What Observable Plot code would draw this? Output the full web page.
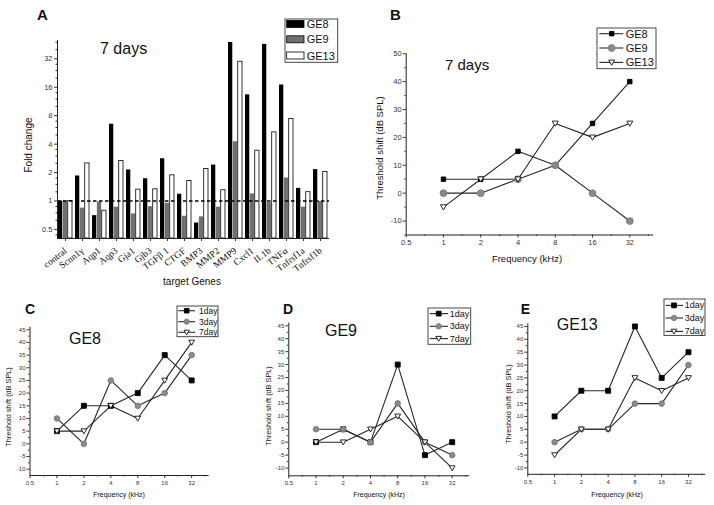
<!DOCTYPE html>
<html><head><meta charset="utf-8">
<script src="https://cdn.jsdelivr.net/npm/d3@7"></script>
<script src="https://cdn.jsdelivr.net/npm/@observablehq/plot@0.6"></script>
<style>
body{margin:0;background:#fff;}
#root{position:relative;width:714px;height:505px;overflow:hidden;font-family:"Liberation Sans",Arial,sans-serif;color:#111;}
.abs{position:absolute;white-space:nowrap;line-height:1;}
.panel{position:absolute;}
.panel svg{overflow:visible;}
</style></head><body><div id="root"></div>
<script>
// ---------- Panel A data ----------
const genes = ["contral","Scnn1γ","Aqp1","Aqp3","Gja1","Gjb3","TGFβ 1","CTGF","BMP3","MMP2","MMP9","Cxcl1","IL1b","TNFα","Tnfrsf1a","Tnfrsf1b"];
const foldGE8  = [1,1.84,0.70,6.5,2.13,1.72,2.8,1.18,0.585,2.4,47.7,13.3,45.5,16.9,1.36,2.15];
const foldGE9  = [1,0.84,0.98,0.86,0.73,0.87,0.945,0.69,0.68,0.86,4.24,1.19,0.96,1.75,0.86,0.99];
const foldGE13 = [1,2.5,0.79,2.65,1.32,1.33,1.87,1.63,2.18,1.30,29.8,3.41,5.33,7.37,1.24,2.03];
const foldTicks = [0.5,1,2,4,8,16,32];
const seriesA = ["GE8","GE9","GE13"];
// ---------- Line panels data ----------
const freqs = [1,2,4,8,16,32];
const freqTicks = [0.5,1,2,4,8,16,32];
// B: 7 days
const bGE8  = [5,5,15,10,25,40];
const bGE9  = [0,0,5,10,0,-10];
const bGE13 = [-5,5,5,25,20,25];
// C: GE8
const cDay1 = [5,15,15,20,35,25];
const cDay3 = [10,0,25,15,20,35];
const cDay7 = [5,5,15,10,25,40];
// D: GE9
const dDay1 = [0,5,0,30,-5,0];
const dDay3 = [5,5,0,15,0,-5];
const dDay7 = [0,0,5,10,0,-10];
// E: GE13
const eDay1 = [10,20,20,45,25,35];
const eDay3 = [0,5,5,15,15,30];
const eDay7 = [-5,5,5,25,20,25];
const dayLabels = ["1day","3day","7day"];

const root = document.getElementById("root");
const FONT = "Liberation Sans, Arial, sans-serif";

function addText(str, o){
  const d = document.createElement("div");
  d.className = "abs"; d.textContent = str;
  d.style.fontSize = o.size + "px";
  if (o.bold) d.style.fontWeight = "bold";
  if (o.family) d.style.fontFamily = o.family;
  if (o.rotate){ d.style.left=o.cx+"px"; d.style.top=o.cy+"px"; d.style.transform="translate(-50%,-50%) rotate(-90deg)"; }
  else if (o.cx != null){ d.style.left=o.cx+"px"; d.style.top=o.cy+"px"; d.style.transform="translate(-50%,-50%)"; }
  else { d.style.left=o.x+"px"; d.style.top=o.cy+"px"; d.style.transform="translateY(-50%)"; }
  root.appendChild(d);
}
function place(el, left, top){
  const w = document.createElement("div"); w.className="panel";
  w.style.left=left+"px"; w.style.top=top+"px"; w.appendChild(el); root.appendChild(w);
}

// custom downward triangle symbol
const triDown = {draw(ctx, size){
  const r = Math.sqrt(size/Math.PI), h = 1.73*r;
  ctx.moveTo(-r, -0.45*h); ctx.lineTo(r, -0.45*h); ctx.lineTo(0, 0.55*h); ctx.closePath();
}};

// ---------- Panel A ----------
{
  const W=345, H=292, mL=57, mR=16, mT=40, mB=54;
  const yMin=0.401, yMax=50;
  const pad=0.15;
  const step=(W-mL-mR)/(genes.length-pad), bw=step*(1-pad), third=bw/3;
  const minor=[];
  for (let k=-2;k<=5;k++) for (let i=1;i<=3;i++){ const v=Math.pow(2,k)*(1+i/4); if(v>yMin&&v<yMax) minor.push(v); }
  const vals=[foldGE8,foldGE9,foldGE13];
  const fills=["#000","#707070","#fff"];
  const bars = vals.map((arr,k)=>Plot.barY(genes,{x:d=>d, y1:yMin, y2:(d,i)=>arr[i], fill:fills[k],
      stroke: k===2?"#000":"none", strokeWidth:0.8, insetLeft:k*third, insetRight:(2-k)*third}));
  const p = Plot.plot({
    width:W, height:H, marginLeft:mL, marginRight:mR, marginTop:mT, marginBottom:mB,
    style:{fontFamily:FONT, background:"transparent", color:"#333"},
    x:{type:"band", domain:genes, paddingInner:pad, paddingOuter:0, align:0.5},
    y:{type:"log", base:2, domain:[yMin,yMax]},
    marks:[
      ...bars,
      Plot.ruleY([1],{stroke:"#000", strokeWidth:1.4, strokeDasharray:"3.5,2.5"}),
      Plot.ruleY([yMin],{stroke:"#222", strokeWidth:1}),
      Plot.frame({anchor:"left", stroke:"#222"}),
      Plot.axisY(foldTicks,{tickSize:3, tickPadding:2, fontSize:7.5, tickFormat:d=>String(d), label:null}),
      Plot.axisY(minor,{tickSize:1.5, tickFormat:()=>"", label:null}),
      Plot.axisX(genes,{tickSize:3, tickRotate:-38, tickPadding:8, fontFamily:"Liberation Serif, Times New Roman, serif", fontSize:9.5, fill:"#111", label:null})
    ]
  });
  place(p,0,0);
}

// ---------- Line panels ----------
function linePlot(cfg){
  const {left,top,width,height,mL,mR,mT,mB,yDomain,yTicks,yMinor,series,tickFont} = cfg;
  const rows = series.flatMap(s=>freqs.map((f,i)=>({f, v:s.values[i], s:s.name})));
  const fMinor = freqTicks.map(d=>d*Math.SQRT2);
  const p = Plot.plot({
    width, height, marginLeft:mL, marginRight:mR, marginTop:mT, marginBottom:mB,
    style:{fontFamily:FONT, background:"transparent", color:"#333"},
    x:{type:"log", base:2, domain:[0.5,50]},
    y:{domain:yDomain},
    marks:[
      Plot.ruleX([0.5],{stroke:"#222"}),
      Plot.ruleY([yDomain[0]],{stroke:"#222"}),
      Plot.axisY(yTicks,{tickSize:3, tickPadding:1.5, fontSize:tickFont, tickFormat:d=>String(d), label:null}),
      Plot.axisY(yMinor,{tickSize:1.5, tickFormat:()=>"", label:null}),
      Plot.axisX(freqTicks,{tickSize:3, tickPadding:2, fontSize:tickFont, tickFormat:d=>String(d), label:null}),
      Plot.axisX(fMinor,{tickSize:1.5, tickFormat:()=>"", label:null}),
      Plot.line(rows,{x:"f", y:"v", z:"s", stroke:"#262626", strokeWidth:1.1}),
      ...series.map(s=>Plot.dot(s.values,{x:(d,i)=>freqs[i], y:d=>d, symbol:s.symbol, r:s.r, fill:s.fill, stroke:s.stroke, strokeWidth:0.9}))
    ]
  });
  place(p,left,top);
}
const range=(a,b,s)=>{const o=[];for(let v=a;v<=b+1e-9;v+=s)o.push(v);return o;};
const styleSq = {symbol:"square", fill:"#000", stroke:"#000"};
const styleCi = {symbol:"circle", fill:"#8a8a8a", stroke:"#7a7a7a"};
const styleTr = {symbol:triDown, fill:"#fff", stroke:"#111"};

linePlot({left:360, top:0, width:354, height:275, mL:45.7, mR:60.7, mT:53.2, mB:40.5,
  yDomain:[-15,50], yTicks:range(-10,50,10), yMinor:range(-15,45,10), tickFont:7.5,
  series:[{name:"GE8",values:bGE8,...styleSq,r:2.5},{name:"GE9",values:bGE9,...styleCi,r:3.4},{name:"GE13",values:bGE13,...styleTr,r:3}]});
const smallYT = range(-10,45,5), smallYM = range(-7.5,42.5,5);
linePlot({left:0, top:300, width:235, height:205, mL:29.5, mR:26.5, mT:26.7, mB:30,
  yDomain:[-12.5,46], yTicks:smallYT, yMinor:smallYM, tickFont:6,
  series:[{name:"1day",values:cDay1,...styleSq,r:2.8},{name:"3day",values:cDay3,...styleCi,r:2.8},{name:"7day",values:cDay7,...styleTr,r:2.9}]});
linePlot({left:240, top:300, width:240, height:205, mL:48.3, mR:10.8, mT:22.7, mB:29.7,
  yDomain:[-13,46], yTicks:smallYT, yMinor:smallYM, tickFont:6,
  series:[{name:"1day",values:dDay1,...styleSq,r:2.8},{name:"3day",values:dDay3,...styleCi,r:2.8},{name:"7day",values:dDay7,...styleTr,r:2.9}]});
linePlot({left:474, top:300, width:240, height:205, mL:53.3, mR:8.8, mT:23.4, mB:31.2,
  yDomain:[-12.5,46], yTicks:smallYT, yMinor:smallYM, tickFont:6,
  series:[{name:"1day",values:eDay1,...styleSq,r:2.8},{name:"3day",values:eDay3,...styleCi,r:2.8},{name:"7day",values:eDay7,...styleTr,r:2.9}]});

// ---------- Legends ----------
const NS="http://www.w3.org/2000/svg";
function el(tag, attrs){const e=document.createElementNS(NS,tag);for(const k in attrs)e.setAttribute(k,attrs[k]);return e;}
function legend(o){
  const svg=el("svg",{width:o.w+2,height:o.h+2});
  svg.style.position="absolute"; svg.style.left=(o.x-1)+"px"; svg.style.top=(o.y-1)+"px"; svg.style.overflow="visible";
  svg.appendChild(el("rect",{x:1,y:1,width:o.w,height:o.h,fill:"#fff",stroke:"#333","stroke-width":0.9}));
  o.rows.forEach((r,i)=>{
    const cy=r.cy-o.y+1;
    if (o.kind==="bar"){
      svg.appendChild(el("rect",{x:o.sx1-o.x+1,y:cy-3.5,width:o.sx2-o.sx1,height:7,fill:r.fill,stroke:"#000","stroke-width":0.8}));
    } else {
      svg.appendChild(el("line",{x1:o.lx1-o.x+1,x2:o.lx2-o.x+1,y1:cy,y2:cy,stroke:"#262626","stroke-width":1.1}));
      const path=d3.symbol(r.symbol, Math.PI*r.r*r.r)();
      svg.appendChild(el("path",{d:path,transform:`translate(${o.sx-o.x+1},${cy})`,fill:r.fill,stroke:r.stroke,"stroke-width":0.9}));
    }
    const t=el("text",{x:o.tx-o.x+1,y:cy,"dominant-baseline":"central","font-size":o.font,"font-family":FONT,fill:"#111"});
    t.textContent=r.label; svg.appendChild(t);
  });
  root.appendChild(svg);
}
legend({kind:"bar",x:285,y:19,w:52.7,h:43.3,sx1:286.7,sx2:304,tx:306.7,font:11,
  rows:[{label:seriesA[0],cy:24,fill:"#000"},{label:seriesA[1],cy:39.3,fill:"#707070"},{label:seriesA[2],cy:55.5,fill:"#fff"}]});
const dSq=d3.symbolSquare, dCi=d3.symbolCircle;
legend({x:597,y:28.3,w:59,h:40.7,lx1:599.3,lx2:623.3,sx:611.7,tx:625.7,font:11,
  rows:[{label:"GE8",cy:34,symbol:dSq,r:2.5,fill:"#000",stroke:"#000"},{label:"GE9",cy:48.3,symbol:dCi,r:3.4,fill:"#8a8a8a",stroke:"#7a7a7a"},{label:"GE13",cy:62.7,symbol:triDown,r:3,fill:"#fff",stroke:"#111"}]});
function dayRows(ys,rs){return [{label:dayLabels[0],cy:ys[0],symbol:dSq,r:rs,fill:"#000",stroke:"#000"},{label:dayLabels[1],cy:ys[1],symbol:dCi,r:rs,fill:"#8a8a8a",stroke:"#7a7a7a"},{label:dayLabels[2],cy:ys[2],symbol:triDown,r:rs+0.1,fill:"#fff",stroke:"#111"}];}
legend({x:177,y:306,w:41,h:30.7,lx1:178.3,lx2:195,sx:186.7,tx:199,font:8.5,rows:dayRows([310.7,321.7,332.3],2.6)});
legend({x:428.3,y:307.7,w:42.7,h:36.3,lx1:430,lx2:448.3,sx:439,tx:450,font:9,rows:dayRows([313.3,326,338.3],2.7)});
legend({x:664,y:299.3,w:41,h:36.4,lx1:665.7,lx2:683,sx:674,tx:684.7,font:9,rows:dayRows([305.7,318.3,331.7],2.7)});

// ---------- Titles / axis titles ----------
addText("A",{x:37,cy:14,size:15,bold:true});
addText("7 days",{x:100,cy:49,size:16});
addText("Fold change",{cx:29,cy:145,size:10,rotate:true});
addText("target Genes",{cx:192,cy:282,size:10});
addText("B",{x:390,cy:14,size:15,bold:true});
addText("7 days",{x:445,cy:64,size:15});
addText("Threshold shift (dB SPL)",{cx:380,cy:148,size:9.5,rotate:true});
addText("Frequency (kHz)",{cx:527,cy:259,size:9.5});
addText("C",{x:25,cy:309,size:14,bold:true});
addText("GE8",{x:69,cy:338.5,size:16});
addText("Threshold shift (dB SPL)",{cx:9,cy:407,size:7.3,rotate:true});
addText("Frequency (kHz)",{cx:119,cy:494,size:7});
addText("D",{x:283,cy:309,size:14,bold:true});
addText("GE9",{x:325,cy:331,size:16});
addText("Threshold shift (dB SPL)",{cx:268.5,cy:406,size:7.3,rotate:true});
addText("Frequency (kHz)",{cx:379,cy:494,size:7});
addText("E",{x:520.7,cy:309,size:14,bold:true});
addText("GE13",{x:556.7,cy:324.5,size:16});
addText("Threshold shift (dB SPL)",{cx:509,cy:404,size:7.3,rotate:true});
addText("Frequency (kHz)",{cx:617,cy:494,size:7});
</script></body></html>
